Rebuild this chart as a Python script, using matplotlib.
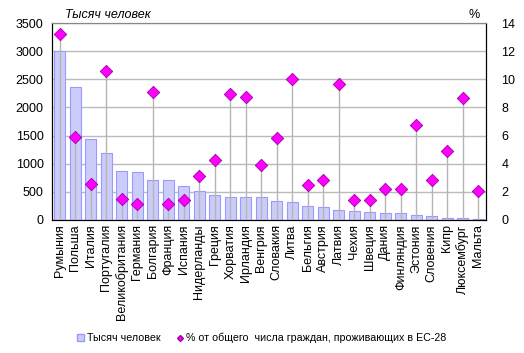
import numpy as np
import matplotlib.pyplot as plt
from matplotlib.lines import Line2D
from matplotlib.patches import Patch

plt.rcParams['font.family'] = ['Liberation Sans', 'DejaVu Sans']

countries = ['Румыния', 'Польша', 'Италия', 'Португалия', 'Великобритания',
             'Германия', 'Болгария', 'Франция', 'Испания', 'Нидерланды',
             'Греция', 'Хорватия', 'Ирландия', 'Венгрия', 'Словакия', 'Литва',
             'Бельгия', 'Австрия', 'Латвия', 'Чехия', 'Швеция', 'Дания',
             'Финляндия', 'Эстония', 'Словения', 'Кипр', 'Люксембург', 'Мальта']
thousands = [3000, 2360, 1435, 1185, 866, 848, 705, 705, 600, 515,
             445, 408, 408, 405, 332, 320, 243, 225, 172, 154, 136, 118,
             118, 83, 65, 36, 36, 18]
percent = [13.2, 5.87, 2.54, 10.6, 1.47, 1.12, 9.1, 1.12, 1.43, 3.11,
           4.25, 8.95, 8.74, 3.9, 5.8, 10.0, 2.47, 2.87, 9.64, 1.45, 1.4,
           2.23, 2.18, 6.72, 2.83, 4.89, 8.65, 2.09]

fig = plt.figure(figsize=(5.24, 3.53), dpi=100)
ax = fig.add_axes([52 / 524, 1 - 220 / 353, 434 / 524, 197 / 353])
ax2 = ax.twinx()

x = np.arange(len(countries))
ax.bar(x, thousands, width=0.68, color='#ccccfa', edgecolor='#9999ff', linewidth=0.8, zorder=2)
ax.set_ylim(0, 3500)
ax.set_yticks(range(0, 3501, 500))
ax.set_xlim(-0.5, len(countries) - 0.5)
ax.grid(axis='y', color='#bbbbbb', linewidth=1, zorder=0)
ax.set_axisbelow(True)

ax2.vlines(x, 0, percent, color='#b5b5b5', linewidth=1, zorder=3)
ax2.scatter(x, percent, marker='D', s=40, color='#ff00ff', edgecolor='#a000a0',
            linewidth=0.6, zorder=4)
ax2.set_ylim(0, 14)
ax2.set_yticks(range(0, 15, 2))

ax.set_xticks(x)
ax.set_xticklabels(countries, rotation=90, fontsize=9)
for a in (ax, ax2):
    a.tick_params(axis='y', labelsize=9, length=0, pad=6)
    a.spines['top'].set_color('#888888')
ax.tick_params(axis='x', length=0, pad=3)
ax2.tick_params(axis='y', pad=11)

ax.text(0.03, 1.01, 'Тысяч человек', transform=ax.transAxes, fontsize=9,
        style='italic', ha='left', va='bottom')
ax.text(0.985, 1.01, '%', transform=ax.transAxes, fontsize=9,
        ha='right', va='bottom')

handles = [Patch(facecolor='#ccccfa', edgecolor='#9999ff'),
           Line2D([], [], marker='D', color='#ff00ff', markeredgecolor='#a000a0',
                  linestyle='', markersize=3)]
fig.legend(handles, ['Тысяч человек', '% от общего  числа граждан, проживающих в ЕС-28'],
           loc='center', bbox_to_anchor=(0.5, 1 - 338 / 353), ncol=2, frameon=False,
           fontsize=7.7, handlelength=0.6, handleheight=0.6, handletextpad=0.3,
           columnspacing=1.5)

fig.savefig('out.png', dpi=100)
